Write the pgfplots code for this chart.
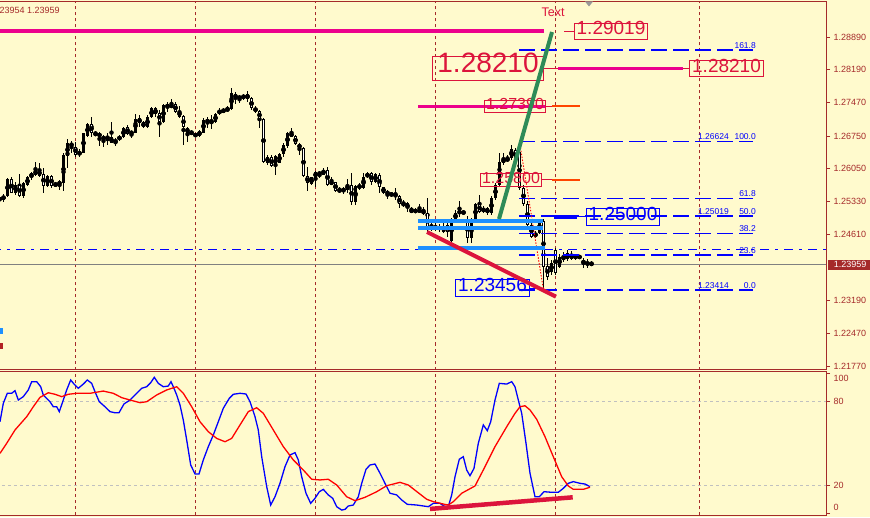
\documentclass[border=0pt]{standalone}
\usepackage{fontspec}
\setmainfont{Liberation Sans}
\usepackage{pgfplots}
\pgfplotsset{compat=1.18}
\usepackage{pgfplotstable}
\definecolor{bg}{HTML}{FFFACD}
\definecolor{axred}{HTML}{A52A2A}
\definecolor{crim}{HTML}{DC143C}
\definecolor{fbrick}{HTML}{B22222}
\definecolor{dblue}{HTML}{1E90FF}
\definecolor{sgreen}{HTML}{2E8B57}
\definecolor{ored}{HTML}{FF4500}
\definecolor{bidgray}{HTML}{808080}
\definecolor{lgray}{HTML}{C0C0C0}
\definecolor{pblue}{HTML}{0000FF}
\newcommand{\fs}[1]{\fontsize{#1}{#1}\selectfont}

\pgfplotstableread{
x o h l c
-0.5 1.25352 1.25450 1.25319 1.25406
3.5 1.25378 1.25493 1.25326 1.25450
7.5 1.25450 1.25833 1.25435 1.25811
11.5 1.25811 1.25854 1.25508 1.25522
15.5 1.25522 1.25759 1.25471 1.25688
19.5 1.25688 1.25926 1.25422 1.25450
23.5 1.25450 1.25759 1.25400 1.25724
27.5 1.25688 1.25883 1.25673 1.25854
31.5 1.25854 1.25976 1.25796 1.25941
35.5 1.25904 1.26179 1.25883 1.26013
39.5 1.26013 1.26158 1.25854 1.25883
43.5 1.25926 1.26049 1.25522 1.25666
47.5 1.25666 1.25904 1.25651 1.25883
51.5 1.25883 1.25904 1.25616 1.25666
55.5 1.25666 1.25759 1.25651 1.25724
59.5 1.25703 1.25796 1.25580 1.25753
63.5 1.25724 1.26374 1.25564 1.26337
67.5 1.26316 1.26677 1.26049 1.26591
71.5 1.26604 1.26647 1.26374 1.26517
75.5 1.26517 1.26625 1.26301 1.26337
79.5 1.26337 1.26461 1.26301 1.26409
83.5 1.26387 1.26820 1.26374 1.26807
87.5 1.26749 1.27024 1.26734 1.27008
91.5 1.27008 1.27166 1.26734 1.26814
95.5 1.26777 1.26863 1.26749 1.26807
99.5 1.26820 1.26842 1.26532 1.26720
103.5 1.26734 1.26770 1.26517 1.26677
107.5 1.26749 1.26807 1.26554 1.26677
111.5 1.26720 1.27058 1.26591 1.26604
115.5 1.26604 1.26699 1.26532 1.26662
119.5 1.26662 1.26770 1.26647 1.26749
123.5 1.26720 1.26950 1.26699 1.26915
127.5 1.26937 1.26987 1.26770 1.26792
131.5 1.26807 1.26863 1.26699 1.26835
135.5 1.26820 1.27218 1.26807 1.27117
139.5 1.27132 1.27203 1.26950 1.27037
143.5 1.27052 1.27080 1.26915 1.26937
147.5 1.26937 1.27203 1.26915 1.27166
151.5 1.27153 1.27370 1.27132 1.27348
155.5 1.27348 1.27383 1.27166 1.27225
159.5 1.27253 1.27312 1.26734 1.27058
163.5 1.27058 1.27441 1.27037 1.27420
167.5 1.27383 1.27491 1.27275 1.27420
171.5 1.27383 1.27543 1.27348 1.27420
175.5 1.27441 1.27491 1.27240 1.27275
179.5 1.27290 1.27398 1.27132 1.27166
183.5 1.27182 1.27203 1.26554 1.26937
187.5 1.26915 1.26950 1.26625 1.26820
191.5 1.26807 1.26863 1.26770 1.26842
195.5 1.26749 1.26807 1.26734 1.26786
199.5 1.26755 1.26879 1.26734 1.26857
203.5 1.26820 1.27132 1.26807 1.27095
207.5 1.27110 1.27166 1.26915 1.27037
211.5 1.27095 1.27203 1.26894 1.27037
215.5 1.27058 1.27240 1.27037 1.27225
219.5 1.27312 1.27348 1.27203 1.27225
223.5 1.27275 1.27348 1.27253 1.27312
227.5 1.27296 1.27398 1.27275 1.27348
231.5 1.27327 1.27781 1.27312 1.27673
235.5 1.27658 1.27708 1.27441 1.27565
239.5 1.27565 1.27636 1.27457 1.27599
243.5 1.27565 1.27658 1.27528 1.27636
247.5 1.27658 1.27729 1.27491 1.27543
251.5 1.27565 1.27586 1.27312 1.27348
255.5 1.27348 1.27398 1.27240 1.27296
259.5 1.27296 1.27312 1.26915 1.27110
263.5 1.27110 1.27132 1.26158 1.26192
267.5 1.26170 1.26337 1.26121 1.26301
271.5 1.26287 1.26337 1.26084 1.26099
275.5 1.26099 1.26337 1.25904 1.26316
279.5 1.26170 1.26387 1.26158 1.26359
283.5 1.26359 1.26591 1.26301 1.26554
287.5 1.26532 1.26842 1.26482 1.26820
291.5 1.26820 1.26915 1.26720 1.26734
295.5 1.26742 1.26770 1.26554 1.26575
299.5 1.26575 1.26597 1.26337 1.26482
303.5 1.26482 1.26504 1.25868 1.25883
307.5 1.25883 1.26084 1.25564 1.25724
311.5 1.25709 1.25867 1.25688 1.25854
315.5 1.25854 1.25998 1.25651 1.25963
319.5 1.25963 1.25976 1.25833 1.25911
323.5 1.25911 1.26049 1.25898 1.26013
327.5 1.26013 1.26071 1.25666 1.25688
331.5 1.25709 1.25867 1.25688 1.25759
335.5 1.25746 1.25759 1.25543 1.25564
339.5 1.25558 1.25651 1.25522 1.25580
343.5 1.25564 1.25651 1.25493 1.25601
347.5 1.25580 1.25811 1.25522 1.25688
351.5 1.25688 1.25941 1.25255 1.25326
355.5 1.25326 1.25688 1.25255 1.25666
359.5 1.25616 1.25738 1.25580 1.25688
363.5 1.25616 1.25941 1.25595 1.25867
367.5 1.25854 1.25976 1.25833 1.25941
371.5 1.25941 1.25976 1.25688 1.25759
375.5 1.25759 1.25954 1.25724 1.25919
379.5 1.25904 1.25954 1.25508 1.25638
383.5 1.25638 1.25651 1.25493 1.25522
387.5 1.25543 1.25580 1.25378 1.25493
391.5 1.25465 1.25543 1.25422 1.25508
395.5 1.25435 1.25616 1.25363 1.25493
399.5 1.25450 1.25471 1.25184 1.25276
403.5 1.25255 1.25363 1.25218 1.25291
407.5 1.25291 1.25326 1.25110 1.25184
411.5 1.25110 1.25218 1.25088 1.25147
415.5 1.25103 1.25184 1.25075 1.25147
419.5 1.25103 1.25276 1.25088 1.25162
423.5 1.25132 1.25218 1.25038 1.25075
427.5 1.25075 1.25400 1.24677 1.24729
431.5 1.24729 1.24893 1.24698 1.24822
435.5 1.24800 1.24858 1.24698 1.24729
439.5 1.24785 1.24837 1.24677 1.24729
443.5 1.24800 1.24858 1.24655 1.24677
447.5 1.24822 1.24858 1.24568 1.24677
451.5 1.24482 1.24967 1.24460 1.24930
455.5 1.24930 1.25147 1.24893 1.25088
459.5 1.25088 1.25348 1.25002 1.25110
463.5 1.25110 1.25147 1.25038 1.25075
467.5 1.24930 1.25017 1.24426 1.24534
471.5 1.24534 1.24967 1.24426 1.24930
475.5 1.24930 1.25305 1.24893 1.25276
479.5 1.25276 1.25471 1.25088 1.25110
483.5 1.25110 1.25233 1.25075 1.25184
487.5 1.25184 1.25218 1.25038 1.25075
491.5 1.25088 1.25450 1.25038 1.25400
495.5 1.25400 1.25724 1.25363 1.25688
499.5 1.25688 1.26374 1.25666 1.26192
503.5 1.26158 1.26374 1.26121 1.26266
507.5 1.26214 1.26337 1.26192 1.26266
511.5 1.26266 1.26554 1.26229 1.26461
515.5 1.26446 1.26482 1.26192 1.26244
519.5 1.26402 1.26624 1.25580 1.25616
523.5 1.25623 1.25688 1.25233 1.25276
527.5 1.25276 1.25341 1.24757 1.24822
531.5 1.24822 1.24887 1.24540 1.24568
535.5 1.24568 1.24692 1.24540 1.24649
539.5 1.24642 1.24952 1.24627 1.24930
543.5 1.24915 1.24952 1.23414 1.23919
547.5 1.23934 1.24107 1.23631 1.23702
551.5 1.23811 1.24064 1.23739 1.23999
555.5 1.24281 1.24324 1.23739 1.23776
559.5 1.23913 1.24194 1.23891 1.24129
563.5 1.24064 1.24237 1.24021 1.24151
567.5 1.24209 1.24281 1.24042 1.24079
571.5 1.24086 1.24259 1.24064 1.24194
575.5 1.24107 1.24194 1.24064 1.24151
579.5 1.24151 1.24172 1.24086 1.24107
583.5 1.24064 1.24107 1.23891 1.23977
587.5 1.24021 1.24086 1.23891 1.23956
591.5 1.23999 1.24042 1.23934 1.23959
}\ohlc

\pgfplotstableread{
x v
0 65.7
3.3 78.8
7.3 86
11.7 86
15 87.9
18.3 81.2
23.3 83.6
28.3 88.4
31.7 94.3
36.7 94.3
40.7 90.7
43.3 84.8
50 80
53.3 76.4
56.7 76.4
59.3 72.9
63.3 81.2
66.7 88.4
70.7 95.5
74 92.6
78.3 89.6
83.3 92.6
87.3 95.5
91.7 93.1
95 87.1
99.3 80
105 76.4
110 72.9
115 72.1
119 72.1
124 78.4
130 81.2
136.7 86
141.7 89.6
146.7 90.7
150.7 93.6
154.3 97.4
158.3 93.1
163.3 90.7
168.3 91.2
171 94.3
173.3 90.7
176.7 84.8
180 77.6
183.3 66.9
186.7 52.6
190.7 34.8
195 28.4
199 28.4
203.3 38.4
208.3 47.9
213.3 56.2
218.3 65.7
223.3 75.3
229.3 82.4
233.3 85.3
240 86
246 85.5
250 80
255 69.3
258.3 59.8
261.7 40.7
266.7 19.3
270.7 6.2
275 12.1
280 21.7
285 33.6
290 41.9
295 43.6
298.3 38.4
301.7 26.4
306 14.6
310.7 7.4
315 11
319.3 15.7
323.3 17.4
328.3 13.4
332.7 11
336.7 5
341.7 2.6
345 3.1
348.3 5.5
353.3 6.2
358.3 12.1
361.7 21.7
366 31.7
370 34.8
375 35.5
380 28.9
385 21.7
390 14.6
396.7 13.4
401.7 9.8
407.3 6.7
416.7 6.2
428.3 5
433.3 7.4
440 7.4
445 5
448.3 5
451.7 13.4
455 26.4
459.3 38.9
463.3 40.7
466.7 31.2
470 27.1
474 32.4
478.3 50.3
483.3 63.4
487.3 59.3
490.7 65.7
495 81.2
499.3 93.1
506.7 92.6
511.7 94.3
515 90.7
518.3 81.2
521.7 71.7
526 50.3
530 28.9
535 12.1
539.3 12.1
544 15.7
551.7 15.3
558.3 15.3
563.3 18.1
568.3 21.7
573.3 22.9
580 21.7
585 21.2
590 19.3
}\stmain

\pgfplotstableread{
x v
0 43.1
6.7 50.3
15 59.8
26.7 69.3
33.3 76.4
40 83.1
48.3 86.4
55 85.3
61.7 83.6
68.3 85.3
76.7 86
90 86
103.3 87.6
113.3 86
121.7 82.9
130 81.2
140 79.3
146.7 80
156.7 84.8
166.7 88.4
176.7 90.7
183.3 86
191.7 76.4
200 65.7
208.3 58.6
216.7 53.8
225 51.4
231.7 53.8
240 63.4
248.3 72.9
256.7 75.7
263.3 71.7
273.3 59.8
283.3 47.9
293.3 38.4
303.3 31.2
311.7 24.6
320 24.1
328.3 24.6
336.7 20.5
346.7 12.1
355 9.3
365 11.7
376.7 15.7
386.7 20
400 22.4
408.3 20.5
420 14
426.7 10.3
433.3 8.6
443.3 6.9
448.3 6.2
453.3 8.6
461.7 14.6
475 19.8
485 33.6
495 47.9
506.7 62.1
515 71.7
520 76.4
525 77.1
530 74.1
536.7 67.4
545 55
553.3 40.7
561.7 26.4
568.3 19.8
573.3 17.4
583.3 17.4
590 18.9
}\stsig

\pgfplotsset{
  mtbase/.style={
    scale only axis, width=836pt,
    xmin=-10, xmax=826,
    clip mode=individual,
    axis line style={draw=axred, line width=1pt},
    xtick={75.5,195.5,315.5,435.5,555.5,699.5}, xticklabels={},
    xtick style={draw=none},
    xmajorgrids,
    grid style={draw=axred, line width=0.8pt, dash pattern=on 3pt off 3pt},
    ytick pos=right, yticklabel pos=right, tick align=outside,
    major tick length=4pt,
    ytick style={draw=axred, line width=0.8pt},
    yticklabel style={text=axred, font=\fs{9}},
  },
  fib/.style={draw=pblue, color=pblue, line width=1.3pt, dash pattern=on 16pt off 6pt, forget plot},
}
\tikzset{
  lbl/.style={draw=crim, line width=1pt, text=crim, text height=0.72em, text depth=0pt},
  lblb/.style={draw=pblue, line width=1pt, text=pblue, text height=0.72em, text depth=0pt},
  fibl/.style={anchor=south east, inner sep=0pt, yshift=1.5pt, text=pblue, font=\fs{8.5}},
}

\begin{document}
\begin{tikzpicture}[x=1pt,y=1pt]
\useasboundingbox (0,0) rectangle (870,517);
\fill[bg] (0,0) rectangle (870,517);

% ---------------- main price panel ----------------
\begin{axis}[mtbase,
  at={(-10pt,147.5pt)}, anchor=south west, height=367.5pt,
  ymin=1.21693, ymax=1.29650,
  ytick={1.2177,1.2247,1.2319,1.2461,1.2533,1.2605,1.2675,1.2747,1.2819,1.2889},
  yticklabels={1.21770,1.22470,1.23190,1.24610,1.25330,1.26050,1.26750,1.27470,1.28190,1.28890},
]
% bid line
\addplot[draw=bidgray, line width=1pt] coordinates {(-10,1.23959) (826,1.23959)};
% candles: wicks
\addplot[only marks, mark=none,
  error bars/y dir=both, error bars/y explicit, error bars/error mark=none,
  error bars/error bar style={draw=black, line width=1pt}]
  table[x=x, y expr={(\thisrow{h}+\thisrow{l})/2}, y error expr={(\thisrow{h}-\thisrow{l})/2}] {\ohlc};
% candles: bodies
\addplot[only marks, mark=none,
  error bars/y dir=both, error bars/y explicit, error bars/error mark=none,
  error bars/error bar style={draw=black, line width=3pt}]
  table[x=x, y expr={(\thisrow{o}+\thisrow{c})/2}, y error expr={max(abs(\thisrow{c}-\thisrow{o})/2,0.00011)}] {\ohlc};
% hollow interiors
\addplot[only marks, mark=none,
  error bars/y dir=both, error bars/y explicit, error bars/error mark=none,
  error bars/error bar style={draw=white, line width=1pt}]
  table[x=x, y expr={(\thisrow{o}+\thisrow{c})/2}, y error expr={\thisrow{o}>\thisrow{c} ? max((\thisrow{o}-\thisrow{c})/2-0.00022,0) : 0}] {\ohlc};

% horizontal dash-dot line
\addplot[draw=pblue, line width=1.3pt, dash pattern=on 9pt off 6pt on 3pt off 6pt] coordinates {(-8,1.24287) (826,1.24287)};

% fibonacci levels
\addplot[fib] coordinates {(519,1.28608) (753,1.28608)};
\addplot[fib] coordinates {(519,1.26624) (753,1.26624)};
\addplot[fib] coordinates {(519,1.25398) (753,1.25398)};
\addplot[fib] coordinates {(519,1.25019) (753,1.25019)};
\addplot[fib] coordinates {(519,1.24640) (753,1.24640)};
\addplot[fib] coordinates {(519,1.24172) (753,1.24172)};
\addplot[fib] coordinates {(519,1.23414) (753,1.23414)};
\addplot[draw=red, line width=0.9pt, dash pattern=on 1.5pt off 1.5pt] coordinates {(519.5,1.26624) (543.5,1.23414)};
\node[fibl] at (axis cs:756,1.28608) {161.8};
\node[fibl] at (axis cs:756,1.26624) {100.0};
\node[fibl] at (axis cs:729,1.26624) {1.26624};
\node[fibl] at (axis cs:756,1.25398) {61.8};
\node[fibl] at (axis cs:756,1.25019) {50.0};
\node[fibl] at (axis cs:729,1.25019) {1.25019};
\node[fibl] at (axis cs:756,1.24640) {38.2};
\node[fibl] at (axis cs:756,1.24172) {23.6};
\node[fibl] at (axis cs:756,1.23414) {0.0};
\node[fibl] at (axis cs:729,1.23414) {1.23414};

% horizontal object lines
\addplot[draw=magenta, line width=3.5pt] coordinates {(-10,1.29019) (544,1.29019)};
\addplot[draw=magenta, line width=3.5pt] coordinates {(558,1.28210) (683,1.28210)};
\addplot[draw=crim, line width=0.8pt] coordinates {(544,1.28210) (558,1.28210)};
\addplot[draw=crim, line width=0.8pt] coordinates {(683,1.28210) (690,1.28210)};
\addplot[draw=crim, line width=0.8pt] coordinates {(564,1.29019) (574,1.29019)};
\addplot[draw=magenta, line width=3.5pt] coordinates {(418,1.27390) (546,1.27390)};
\addplot[draw=crim, line width=0.8pt] coordinates {(546,1.27390) (552,1.27390)};
\addplot[draw=ored, line width=2pt] coordinates {(552,1.27390) (580,1.27390)};
\addplot[draw=crim, line width=0.8pt] coordinates {(542,1.25800) (552,1.25800)};
\addplot[draw=ored, line width=2pt] coordinates {(552,1.25800) (580,1.25800)};
\addplot[draw=pblue, line width=3.5pt] coordinates {(554,1.25000) (577,1.25000)};
\addplot[draw=pblue, line width=0.8pt] coordinates {(577,1.25000) (587,1.25000)};
\addplot[draw=pblue, line width=0.8pt] coordinates {(529,1.23456) (537,1.23456)};
\addplot[draw=dblue, line width=4pt] coordinates {(418,1.24908) (543,1.24908)};
\addplot[draw=dblue, line width=4pt] coordinates {(418,1.24750) (543,1.24750)};
\addplot[draw=dblue, line width=4pt] coordinates {(418,1.24317) (545,1.24317)};
\addplot[draw=dblue, line width=6pt] coordinates {(-10,1.22535) (3,1.22535)};
\addplot[draw=fbrick, line width=6pt] coordinates {(-10,1.22212) (3,1.22212)};

% labels
\node[lbl, font=\fs{28}, inner xsep=4.5pt, inner ysep=8.5pt] at (axis cs:488,1.28210) {1.28210};
\node[lbl, font=\fs{19}, inner xsep=2.2pt, inner ysep=4.5pt] at (axis cs:611,1.29019) {1.29019};
\node[lbl, font=\fs{19}, inner xsep=2.2pt, inner ysep=4.5pt] at (axis cs:726.5,1.28210) {1.28210};
\node[lbl, font=\fs{16}, inner xsep=1.5pt, inner ysep=2.6pt] at (axis cs:515,1.27390) {1.27390};
\node[lbl, font=\fs{16}, inner xsep=1.5pt, inner ysep=2.6pt] at (axis cs:511,1.25800) {1.25800};
\node[lblb, font=\fs{19}, inner xsep=2pt, inner ysep=5pt] at (axis cs:623,1.25000) {1.25000};
\node[lblb, font=\fs{19}, inner xsep=2.2pt, inner ysep=4.7pt] at (axis cs:492.5,1.23456) {1.23456};
\node[text=crim, font=\fs{12.5}, inner sep=0pt] at (axis cs:553,1.29433) {Text};

% trend lines
\addplot[draw=crim, line width=4pt] coordinates {(427,1.24670) (556,1.23269)};
\addplot[draw=sgreen, line width=4pt] coordinates {(499,1.24952) (552,1.29000)};

% current price tag
\node[anchor=west, fill=axred, text=white, font=\fs{9}, inner xsep=3pt, inner ysep=1.5pt, minimum width=44pt, xshift=2pt] at (axis cs:826,1.23959) {1.23959};
\end{axis}

% ---------------- stochastic panel ----------------
\begin{axis}[mtbase,
  at={(-10pt,2pt)}, anchor=south west, height=143.3pt,
  ymin=-0.93, ymax=101.43,
  ytick={0,20,80,100}, yticklabels={,20,80,},
]
\addplot[draw=lgray, line width=0.8pt, dash pattern=on 3pt off 3pt] coordinates {(-10,20) (826,20)};
\addplot[draw=lgray, line width=0.8pt, dash pattern=on 3pt off 3pt] coordinates {(-10,80) (826,80)};
\addplot[draw=pblue, line width=1.3pt] table[x=x, y=v] {\stmain};
\addplot[draw=red, line width=1.3pt] table[x=x, y=v] {\stsig};
\addplot[draw=crim, line width=4.5pt] coordinates {(430,3.4) (572.7,11.7)};
\node[anchor=west, text=axred, font=\fs{9}, yshift=-4.5pt, xshift=4pt] at (axis cs:826,100) {100};
\node[anchor=west, text=axred, font=\fs{9}, yshift=6.5pt, xshift=4pt] at (axis cs:826,0) {0};
\end{axis}

% header text and shift marker
\node[anchor=west, inner sep=0pt, text=axred, font=\fs{9}] at (-0.5,506.7) {23954 1.23959};
\fill[gray!80] (585,515.5) -- (593,515.5) -- (589,510.5) -- cycle;
\end{tikzpicture}
\end{document}
